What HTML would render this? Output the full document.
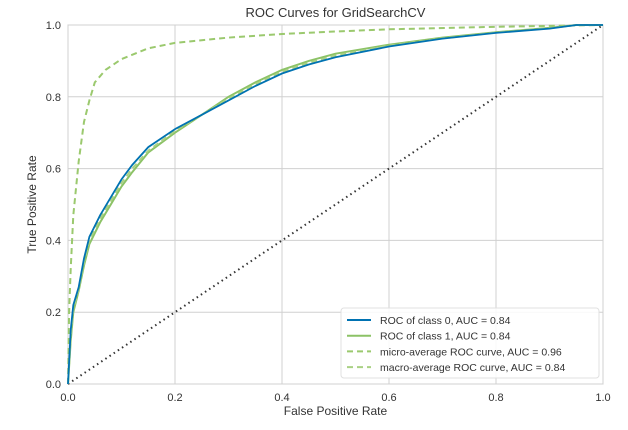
<!DOCTYPE html>
<html><head><meta charset="utf-8"><style>
body{margin:0;background:#fff;font-family:"Liberation Sans",sans-serif}
svg text{font-family:"Liberation Sans",sans-serif;fill:#333}
</style></head><body>
<svg id="chart" width="628" height="425" xmlns="http://www.w3.org/2000/svg"></svg>
<script>
const xTicks=[0,0.2,0.4,0.6,0.8,1.0];
const yTicks=[0,0.2,0.4,0.6,0.8,1.0];
const tickLabels=["0.0","0.2","0.4","0.6","0.8","1.0"];
const class0Fpr=[0,0.005,0.01,0.02,0.03,0.04,0.06,0.08,0.1,0.12,0.15,0.2,0.25,0.3,0.35,0.4,0.45,0.5,0.6,0.7,0.8,0.9,0.95,1];
const class0Tpr=[0,0.15,0.22,0.27,0.35,0.41,0.47,0.52,0.57,0.61,0.66,0.71,0.75,0.79,0.83,0.865,0.89,0.91,0.94,0.962,0.978,0.99,1,1];
const class1Fpr=[0,0.005,0.01,0.02,0.03,0.04,0.06,0.08,0.1,0.12,0.15,0.2,0.25,0.3,0.35,0.4,0.45,0.5,0.6,0.7,0.8,0.9,0.95,1];
const class1Tpr=[0,0.12,0.2,0.26,0.33,0.39,0.45,0.5,0.55,0.59,0.645,0.70,0.75,0.80,0.84,0.875,0.90,0.92,0.945,0.965,0.98,0.992,1,1];
const macroFpr=[0,0.005,0.01,0.02,0.03,0.04,0.06,0.08,0.1,0.12,0.15,0.2,0.25,0.3,0.35,0.4,0.45,0.5,0.6,0.7,0.8,0.9,0.95,1];
const macroTpr=[0,0.13,0.21,0.265,0.34,0.40,0.46,0.51,0.56,0.60,0.65,0.705,0.75,0.795,0.835,0.87,0.895,0.915,0.943,0.963,0.979,0.991,1,1];
const microFpr=[0,0.002,0.005,0.01,0.02,0.03,0.04,0.05,0.07,0.1,0.15,0.2,0.3,0.4,0.5,0.6,0.8,1];
const microTpr=[0,0.2,0.32,0.47,0.62,0.73,0.79,0.84,0.875,0.905,0.935,0.95,0.965,0.975,0.982,0.988,0.995,1];
const X0=68,X1=603,Y0=384,Y1=25;
const sx=v=>X0+v*(X1-X0), sy=v=>Y0-v*(Y0-Y1);
const svg=document.getElementById('chart');
const NS='http://www.w3.org/2000/svg';
function mk(t,a,txt){const e=document.createElementNS(NS,t);for(const k in a)e.setAttribute(k,a[k]);if(txt!=null)e.textContent=txt;svg.appendChild(e);return e;}
mk('rect',{x:X0,y:Y1,width:X1-X0,height:Y0-Y1,fill:'#fff',stroke:'#ccc'});
xTicks.forEach((v,i)=>{
 const g=mk('line',{x1:sx(v),x2:sx(v),y1:Y1,y2:Y0,stroke:'#d0d0d0','stroke-width':1});
 
 const t=mk('text',{x:sx(v),y:Y0+17,'font-size':11,'text-anchor':'middle'},tickLabels[i]);
 
});
yTicks.forEach((v,i)=>{
 const g=mk('line',{x1:X0,x2:X1,y1:sy(v),y2:sy(v),stroke:'#d0d0d0','stroke-width':1});
 
 const t=mk('text',{x:X0-7,y:sy(v)+4,'font-size':11,'text-anchor':'end'},tickLabels[i]);
 
});
function line(xs,ys,color,dash,w,name){
 const d=xs.map((x,i)=>(i?'L':'M')+sx(x).toFixed(1)+','+sy(ys[i]).toFixed(1)).join('');
 const p=mk('path',{d:d,fill:'none',stroke:color,'stroke-width':w,'stroke-dasharray':dash||'none'});
 
}
line([0,1],[0,1],'#333','1.5 3.5',2,'chance-diagonal');
line(microFpr,microTpr,'#9bc96e','6 4',2,'micro-average-curve');
line(class1Fpr,class1Tpr,'#8cc266',null,2,'class-1-curve');
line(macroFpr,macroTpr,'#a9d184','6 4',2,'macro-average-curve');
line(class0Fpr,class0Tpr,'#0072B2',null,1.8,'class-0-curve');
// legend
const lg=mk('rect',{x:341,y:308,width:258,height:70,rx:3,fill:'#fff','fill-opacity':0.85,stroke:'#e0e0e0'});

const leg=[['ROC of class 0, AUC = 0.84','#0072B2',null],['ROC of class 1, AUC = 0.84','#8cc266',null],['micro-average ROC curve, AUC = 0.96','#9bc96e','6 4'],['macro-average ROC curve, AUC = 0.84','#a9d184','6 4']];
leg.forEach((l,i)=>{
 const y=320+i*15.7;
 const s=mk('line',{x1:347,x2:371,y1:y,y2:y,stroke:l[1],'stroke-width':2,'stroke-dasharray':l[2]||'none'});
 
 const t=mk('text',{x:380,y:y+4,'font-size':10.5},l[0]);
 
});
const tt=mk('text',{x:(X0+X1)/2,y:17,'font-size':13,'text-anchor':'middle'},'ROC Curves for GridSearchCV');

const xt=mk('text',{x:(X0+X1)/2,y:415,'font-size':12,'text-anchor':'middle'},'False Positive Rate');

const yt=mk('text',{x:0,y:0,'font-size':12,'text-anchor':'middle',transform:'translate(36,'+((Y0+Y1)/2)+') rotate(-90)'},'True Positive Rate');

</script>
</body></html>
